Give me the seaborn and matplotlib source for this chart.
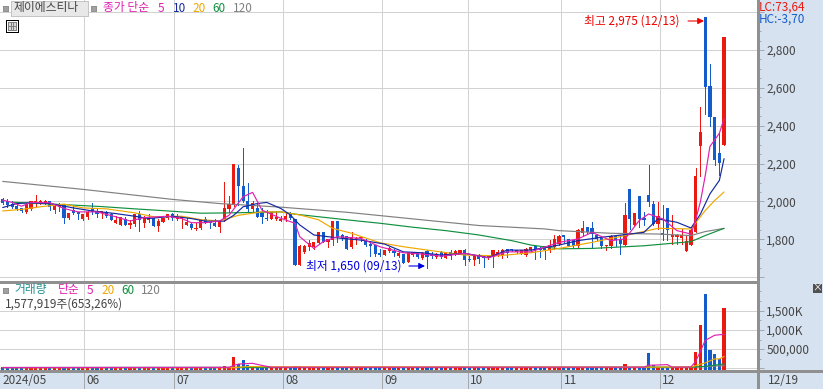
import pandas as pd
import seaborn as sns
import matplotlib.pyplot as plt
from matplotlib.lines import Line2D
from matplotlib.patches import Rectangle
from matplotlib.ticker import MultipleLocator

# candles
open_p = [2015,2000,1985,1975,1965,1945,1960,1990,1990,1990,
          2000,1955,1970,1980,1915,1955,1945,1910,1920,1965,
          1945,1940,1945,1935,1885,1875,1910,1875,1880,1935,
          1885,1900,1915,1870,1890,1915,1935,1910,1910,1875,
          1880,1855,1860,1910,1890,1885,1865,1900,1960,1980,
          2175,2080,2005,1960,1965,1945,1915,1910,1910,1895,
          1905,1935,1905,1665,1735,1760,1760,1780,1840,1785,
          1795,1895,1825,1820,1760,1800,1805,1795,1775,1770,
          1730,1715,1740,1740,1710,1725,1680,1715,1735,1700,
          1740,1720,1705,1735,1700,1735,1725,1725,1745,1695,
          1690,1715,1715,1700,1705,1715,1715,1750,1750,1735,
          1725,1715,1745,1765,1755,1765,1745,1760,1775,1825,
          1800,1795,1765,1835,1865,1860,1825,1805,1765,1765,
          1820,1800,1770,2065,1875,2030,1915,2035,1985,1880,
          1835,1965,1810,1810,1805,1740,1770,1840,2295,2975,
          2610,2445,2255,2300]
close_p = [1990,1980,1970,1960,1950,1985,2000,2005,2000,2000,
           1970,1975,1985,1915,1940,1940,1935,1935,1945,1945,
           1935,1950,1925,1900,1900,1920,1875,1885,1935,1900,
           1915,1920,1870,1895,1915,1935,1915,1925,1925,1890,
           1860,1860,1900,1885,1885,1870,1895,1965,1985,2200,
           2080,2000,1960,1990,1920,1920,1905,1945,1920,1910,
           1925,1915,1665,1765,1765,1780,1785,1840,1785,1800,
           1895,1810,1805,1750,1810,1805,1815,1770,1765,1720,
           1715,1745,1755,1730,1730,1675,1735,1735,1705,1730,
           1705,1710,1725,1705,1735,1710,1740,1745,1690,1690,
           1715,1695,1700,1710,1745,1735,1745,1730,1745,1745,
           1745,1750,1760,1750,1745,1745,1770,1800,1820,1810,
           1765,1765,1850,1860,1840,1830,1800,1765,1770,1820,
           1795,1775,1930,1905,1940,1910,1900,1995,1880,1925,
           1825,1850,1825,1825,1825,1790,1850,2135,2365,2605,
           2445,2220,2205,2870]
high_p = [2020,2015,2000,1995,1965,1990,2005,2035,2010,2010,
          2005,1980,1990,1985,1940,1975,1945,1935,1950,1990,
          1965,1950,1950,1940,1925,1920,1920,1900,1935,1950,
          1925,1935,1915,1905,1915,1935,1940,1935,1925,1915,
          1885,1885,1905,1920,1890,1910,1900,2105,2030,2200,
          2190,2285,2095,2000,1990,1965,1955,1945,1950,1925,
          1940,1945,1905,1770,1770,1795,1785,1840,1840,1800,
          1895,1895,1830,1820,1840,1815,1815,1800,1790,1770,
          1750,1745,1760,1750,1735,1725,1735,1735,1735,1735,
          1745,1735,1730,1740,1735,1745,1745,1745,1750,1710,
          1715,1720,1715,1710,1745,1745,1750,1750,1750,1745,
          1745,1755,1760,1770,1760,1765,1795,1825,1825,1825,
          1800,1795,1855,1895,1865,1890,1830,1810,1770,1825,
          1820,1825,1990,2065,1940,2030,1945,2195,2005,1995,
          1980,1965,1930,1830,1855,1825,1865,2175,2500,2975,
          2725,2445,2360,2870]
low_p = [1985,1970,1965,1955,1945,1940,1955,1975,1985,1985,
         1955,1940,1950,1885,1905,1935,1910,1900,1905,1935,
         1920,1915,1920,1900,1885,1875,1875,1860,1870,1845,
         1865,1890,1870,1845,1890,1910,1900,1900,1860,1875,
         1855,1850,1855,1885,1860,1870,1840,1895,1945,1975,
         1980,1995,1950,1945,1920,1885,1900,1905,1900,1895,
         1895,1905,1665,1665,1730,1745,1750,1780,1785,1760,
         1770,1785,1795,1750,1755,1775,1790,1765,1710,1710,
         1710,1715,1735,1710,1705,1675,1680,1710,1700,1695,
         1650,1700,1700,1700,1700,1695,1715,1720,1665,1685,
         1665,1675,1655,1695,1655,1710,1700,1705,1740,1730,
         1720,1710,1735,1695,1705,1695,1735,1750,1770,1785,
         1765,1760,1760,1820,1835,1755,1795,1755,1745,1755,
         1765,1720,1770,1855,1870,1865,1875,1975,1875,1855,
         1795,1795,1775,1775,1775,1740,1770,1840,2135,2460,
         2400,2190,2140,2300]
# volume in thousands of shares
volume = [25,18,14,20,12,22,30,35,16,14,
          28,15,12,33,18,14,11,13,20,26,
          13,10,16,22,15,19,12,14,21,24,
          18,13,17,15,11,14,16,12,19,13,
          15,12,22,14,10,11,24,70,35,307,
          114,228,96,45,32,24,20,17,26,18,
          15,14,60,52,20,18,25,30,22,16,
          42,38,20,24,16,12,13,15,18,17,
          14,15,12,11,13,22,24,12,10,11,
          20,11,10,12,11,13,10,12,24,9,
          14,11,15,9,18,12,14,11,9,10,
          11,12,10,14,12,13,16,24,22,12,
          11,10,26,28,14,25,13,15,9,20,
          12,18,123,45,35,40,18,386,79,30,
          20,38,22,14,18,24,35,412,1123,1939,
          465,360,241,1578]

# moving averages, read at the points where they bend
ma5_x = [0,2,4,6,10,13,16,20,24,27,30,35,38,40,43,46,48,51,53,55,59,62,63,66,68,71,76,80,85,89,93,98,103,107,112,118,122,125,129,132,135,137,140,143,146,147,148,149,150,151,152,153]
ma5_y = [2007,1995,1975,1995,1993,1963,1945,1945,1919,1897,1915,1922,1910,1888,1888,1897,1927,2025,2048,1954,1911,1885,1814,1752,1788,1814,1805,1761,1729,1722,1711,1726,1702,1734,1734,1784,1802,1837,1793,1802,1899,1934,1908,1846,1828,1905,2000,2135,2290,2325,2360,2437]
ma10_x = [0,3,6,10,15,19,24,28,31,36,40,43,47,49,51,54,56,59,61,63,66,69,72,76,81,85,89,93,98,103,107,112,118,122,127,132,136,139,143,146,148,150,152,153]
ma10_y = [1968,1989,1993,1989,1966,1950,1936,1922,1910,1922,1910,1896,1896,1927,1972,1989,1995,1963,1929,1876,1823,1814,1805,1796,1775,1734,1729,1717,1726,1704,1743,1743,1770,1793,1811,1825,1837,1908,1890,1860,1934,2040,2111,2226]
ma20_x = [0,4,8,13,17,22,28,32,38,42,46,50,55,59,63,67,70,74,80,85,91,98,105,112,118,125,132,139,146,149,151,153]
ma20_y = [1950,1958,1972,1986,1966,1961,1940,1919,1922,1904,1897,1927,1945,1945,1929,1903,1858,1832,1782,1761,1740,1717,1713,1729,1752,1784,1820,1858,1855,1952,2005,2050]
ma60_x = [2,14,21,28,35,42,49,59,62,73,80,87,94,101,108,112,118,125,136,146,149,153]
ma60_y = [1996,1982,1973,1961,1950,1938,1940,1945,1933,1903,1885,1864,1846,1823,1793,1770,1750,1752,1766,1788,1820,1858]
ma120_x = [0,17,36,46,59,73,87,101,115,118,129,139,146,149,153]
ma120_y = [2106,2064,2011,1989,1970,1943,1908,1873,1855,1846,1832,1828,1820,1841,1858]

vol_ma5_x = [0,48,49,50,53,55,57,132,136,137,141,142,146,147,148,149,151,153]
vol_ma5_y = [20,25,75,110,130,75,28,30,30,79,96,28,35,184,447,728,860,886]
vol_ma20_x = [0,49,52,60,136,146,149,151,152,153]
vol_ma20_y = [18,18,45,40,30,35,140,245,245,307]
vol_ma60_x = [0,146,149,153]
vol_ma60_y = [20,30,50,114]
vol_ma120_x = [0,146,153]
vol_ma120_y = [20,25,70]

month_pos = [17.3, 36.4, 59.5, 80.5, 98.6, 118.5, 139.4]
month_labels = ['06', '07', '08', '09', '10', '11', '12']

price_ticks = [1600, 1800, 2000, 2200, 2400, 2600, 2800, 3000]
price_labels = ['', '1,800', '2,000', '2,200', '2,400', '2,600', '2,800', '']
vol_ticks = [0, 500, 1000, 1500]
vol_labels = ['', '500,000', '1,000K', '1,500K']

RED = '#ea1a10'
BLUE = '#145ccb'
MAGENTA = '#e020b0'
NAVY = '#1428a0'
ORANGE = '#f0a800'
GREEN = '#109040'
GRAY = '#808080'
TEAL = '#209090'
BG = '#d6e2f0'
GRID = '#d2d2d2'
EDGE = '#909090'
W, H = 823, 389
THIN = 0.5

sns.set_theme(style='white')
plt.rcParams['font.family'] = ['Noto Sans CJK KR', 'DejaVu Sans']
# the original is a bitmap chart with hard pixel edges
plt.rcParams['lines.antialiased'] = False
plt.rcParams['patch.antialiased'] = False

df = pd.DataFrame({'idx': range(len(open_p)), 'open': open_p, 'close': close_p,
                   'high': high_p, 'low': low_p, 'volume': volume})
df['up'] = df['close'] >= df['open']
df['bottom'] = df[['open', 'close']].min(axis=1)
df['height'] = (df['close'] - df['open']).abs().clip(lower=6)

fig = plt.figure(figsize=(W / 100, H / 100), dpi=100, facecolor=BG)
ax = fig.add_axes([0, 1 - 281 / H, 758 / W, 281 / H])
ax_vol = fig.add_axes([0, 1 - 371 / H, 758 / W, 88 / H])


def ptext(x, y, s, color='#444444', size=8.5, **kw):
    fig.text(x / W, 1 - y / H, s, color=color, fontsize=size, va='center', **kw)


def pline(x0, y0, x1, y1, color=EDGE, lw=1.0):
    fig.add_artist(Line2D([x0 / W, x1 / W], [1 - y0 / H, 1 - y1 / H], color=color, lw=lw))


def pbox(x, y, w, h, face, edge=EDGE, lw=THIN):
    fig.add_artist(Rectangle((x / W, 1 - (y + h) / H), w / W, h / H, facecolor=face,
                             edgecolor=edge, lw=lw, transform=fig.transFigure))


# price pane
for up, color in [(True, RED), (False, BLUE)]:
    part = df[df['up'] == up]
    ax.vlines(part['idx'], part['low'], part['high'], color=color, lw=THIN, zorder=3,
              antialiased=False)
    sns.barplot(data=part, x='idx', y='height', bottom=part['bottom'].values, native_scale=True,
                color=color, saturation=1, width=0.68, linewidth=0, errorbar=None, ax=ax, zorder=3)

for xs, ys, color in [(ma120_x, ma120_y, GRAY), (ma60_x, ma60_y, GREEN), (ma20_x, ma20_y, ORANGE),
                      (ma10_x, ma10_y, NAVY), (ma5_x, ma5_y, MAGENTA)]:
    sns.lineplot(x=xs, y=ys, color=color, lw=0.85, estimator=None, antialiased=True, ax=ax, zorder=4)

ax.set_xlim(-0.573, 160.2)
ax.set_ylim(1580, 3064)
ax.set_xticks(month_pos)
ax.set_xticklabels([])
ax.tick_params(axis='x', length=0)
ax.set_yticks(price_ticks)
ax.set_yticklabels(price_labels)
ax.yaxis.set_minor_locator(MultipleLocator(50))
ax.yaxis.tick_right()
ax.tick_params(axis='y', which='major', length=4.5, width=THIN, color=EDGE, labelsize=8.5,
               labelcolor='#444444', pad=1.5)
ax.tick_params(axis='y', which='minor', length=2.2, width=THIN, color=EDGE, right=True)
ax.grid(True, color=GRID, lw=THIN, zorder=0)
ax.set_axisbelow(True)
ax.set_xlabel('')
ax.set_ylabel('')

# volume pane, bars start a little below zero like the original
base = 45
for up, color in [(True, RED), (False, BLUE)]:
    part = df[df['up'] == up].assign(bar=lambda d: d['volume'] + base)
    sns.barplot(data=part, x='idx', y='bar', bottom=-base, native_scale=True, color=color,
                saturation=1, width=0.68, linewidth=0, errorbar=None, ax=ax_vol, zorder=3)

for xs, ys, color in [(vol_ma120_x, vol_ma120_y, GRAY), (vol_ma60_x, vol_ma60_y, GREEN),
                      (vol_ma20_x, vol_ma20_y, ORANGE), (vol_ma5_x, vol_ma5_y, MAGENTA)]:
    sns.lineplot(x=xs, y=ys, color=color, lw=0.85, estimator=None, antialiased=True, ax=ax_vol, zorder=4)

ax_vol.set_xlim(-0.573, 160.2)
ax_vol.set_ylim(-70, 2221)
ax_vol.set_yticks(vol_ticks)
ax_vol.set_yticklabels(vol_labels)
ax_vol.yaxis.set_minor_locator(MultipleLocator(250))
ax_vol.yaxis.tick_right()
ax_vol.tick_params(axis='y', which='major', length=4.5, width=THIN, color=EDGE, labelsize=8.5,
                   labelcolor='#444444', pad=1.5)
ax_vol.tick_params(axis='y', which='minor', length=2.2, width=THIN, color=EDGE, right=True)
ax_vol.set_xticks(month_pos)
ax_vol.set_xticklabels([])
ax_vol.tick_params(axis='x', length=13, width=THIN, color=EDGE, direction='out', bottom=True)
ax_vol.grid(True, color=GRID, lw=THIN, zorder=0)
ax_vol.set_axisbelow(True)
ax_vol.set_xlabel('')
ax_vol.set_ylabel('')

for pane in (ax, ax_vol):
    sns.despine(ax=pane, left=True, right=True, top=True, bottom=True)

# frame lines
pline(0, 281.5, 758, 281.5)
pline(0, 371, 823, 371)
pline(758, 0, 758, 389)

# date strip
for pos, label in zip(month_pos, month_labels):
    ax_vol.annotate(label, xy=(pos, 0), xycoords=('data', 'axes fraction'), xytext=(1.5, -6.5),
                    textcoords='offset points', va='center', ha='left', fontsize=8.5, color='#444444',
                    annotation_clip=False)
ptext(2, 380, '2024/05')
ptext(768, 380, '12/19')

# legend row of the price pane
pbox(3, 6, 5, 5, '#a0a0a0')
pbox(10.5, 1.5, 77, 14, '#e8e8e8', edge='#c4c4c4')
ptext(14, 8, '제이에스티나', size=8.5)
pbox(91, 6, 5, 5, '#a0a0a0')
ptext(103, 8, '종가 단순', color=MAGENTA)
ptext(158, 8, '5', color=MAGENTA)
ptext(173, 8, '10', color=NAVY)
ptext(192, 8, '20', color=ORANGE)
ptext(212, 8, '60', color=GREEN)
ptext(233, 8, '120', color=GRAY)

# table icon
pbox(6, 20, 12, 12, 'white', edge='black')
pbox(8, 22, 8, 8, '#d8d8d8', edge='#808080')
pline(10.7, 22, 10.7, 30, color='#808080', lw=THIN)
pline(13.4, 22, 13.4, 30, color='#808080', lw=THIN)
pline(8, 26, 16, 26, color='#808080', lw=THIN)

# right hand readouts
ptext(759, 7, 'LC:73,64', color=RED)
ptext(759, 19, 'HC:-3,70', color=BLUE)

# high and low marks
ptext(584, 21, '최고 2,975 (12/13)', color='#f00000')
ptext(306, 266, '최저 1,650 (09/13)', color='#0000e0')
ax.annotate('', xy=(704 / W, 1 - 21 / H), xytext=(688 / W, 1 - 21 / H), xycoords='figure fraction',
            textcoords='figure fraction', arrowprops=dict(arrowstyle='-|>', color='#f00000', lw=0.8, shrinkA=0, shrinkB=0,
                                                          mutation_scale=9, antialiased=True))
ax.annotate('', xy=(425 / W, 1 - 266 / H), xytext=(409 / W, 1 - 266 / H), xycoords='figure fraction',
            textcoords='figure fraction', arrowprops=dict(arrowstyle='-|>', color='#0000e0', lw=0.8, shrinkA=0, shrinkB=0,
                                                          mutation_scale=9, antialiased=True))

# legend of the volume pane
pbox(3, 288, 5, 5, '#a0a0a0')
ptext(14, 290, '거래량', color=TEAL)
ptext(58, 290, '단순', color=MAGENTA)
ptext(87, 290, '5', color=MAGENTA)
ptext(101, 290, '20', color=ORANGE)
ptext(121, 290, '60', color=GREEN)
ptext(141, 290, '120', color=GRAY)
ptext(5, 304, '1,577,919주(653,26%)')

# close button
pbox(813, 284, 8, 8, '#505050', edge='#505050')
ptext(817, 288, '×', color='white', size=7, ha='center')

plt.savefig('out.png', dpi=100, facecolor=BG)
